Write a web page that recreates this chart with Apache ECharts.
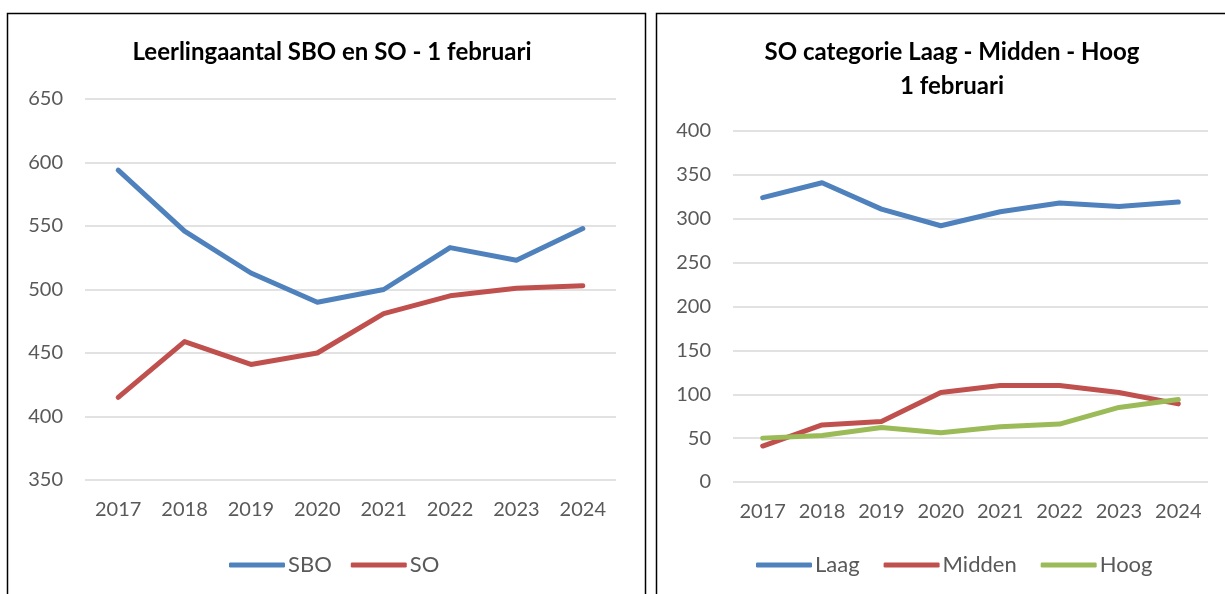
<!DOCTYPE html>
<html><head><meta charset="utf-8">
<script src="https://cdn.jsdelivr.net/npm/echarts@6/dist/echarts.min.js"></script>
<style>html,body{margin:0;padding:0;background:#fff}#c{width:1225px;height:594px}</style>
</head><body><div id="c"></div>
<script>
const years = ['2017','2018','2019','2020','2021','2022','2023','2024'];
const sbo = [594, 546, 513, 490, 500, 533, 523, 548];
const so = [415, 459, 441, 450, 481, 495, 501, 503];
const laag = [324, 341, 311, 292, 308, 318, 314, 319];
const midden = [41, 65, 69, 102, 110, 110, 102, 89];
const hoog = [50, 53, 62, 56, 63, 66, 85, 94];
const leftTicks = {min: 350, max: 650, interval: 50};
const rightTicks = {min: 0, max: 400, interval: 50};

const FONT = 'Lato';
const GRAY = '#595959';
const chart = echarts.init(document.getElementById('c'), null, {renderer: 'canvas'});
function xAxis(i) {
  return {type: 'category', gridIndex: i, data: years, boundaryGap: true,
    axisLine: {show: false}, axisTick: {show: false},
    axisLabel: {color: GRAY, fontSize: 20, fontFamily: FONT, margin: 20, interval: 0, hideOverlap: false}};
}
function yAxis(i, t) {
  return {type: 'value', gridIndex: i, min: t.min, max: t.max, interval: t.interval,
    axisLine: {show: false}, axisTick: {show: false},
    axisLabel: {color: GRAY, fontSize: 20, fontFamily: FONT, margin: 22},
    splitLine: {lineStyle: {color: '#D9D9D9', width: 1.5}}};
}
function line(name, data, color, i) {
  return {type: 'line', name, data, xAxisIndex: i, yAxisIndex: i, symbol: 'none',
    lineStyle: {color, width: 5, cap: 'round', join: 'round'}, itemStyle: {color}, animation: false};
}
const legendText = {color: GRAY, fontSize: 22, fontFamily: FONT, padding: [0, 0, 0, -2]};
chart.setOption({
  animation: false,
  title: [
    {text: 'Leerlingaantal SBO en SO - 1 februari', left: 327, textAlign: 'center', top: 30,
      textStyle: {fontFamily: FONT, fontWeight: 'bold', fontSize: 24, color: '#000', lineHeight: 34}},
    {text: 'SO categorie Laag - Midden - Hoog\n1 februari', left: 947, textAlign: 'center', top: 30,
      textStyle: {fontFamily: FONT, fontWeight: 'bold', fontSize: 24, color: '#000', lineHeight: 34}}
  ],
  grid: [
    {left: 85, right: 609, top: 99, bottom: 114},
    {left: 733, right: 17, top: 131, bottom: 112}
  ],
  legend: [
    {data: ['SBO', 'SO'], left: 224, top: 549, icon: 'roundRect', itemWidth: 56, itemHeight: 5, itemGap: 19,
      textStyle: legendText},
    {data: ['Laag', 'Midden', 'Hoog'], left: 751, top: 549, icon: 'roundRect', itemWidth: 56, itemHeight: 5, itemGap: 24,
      textStyle: legendText}
  ],
  xAxis: [xAxis(0), xAxis(1)],
  yAxis: [yAxis(0, leftTicks), yAxis(1, rightTicks)],
  series: [
    line('SBO', sbo, '#4F81BD', 0),
    line('SO', so, '#C0504D', 0),
    line('Laag', laag, '#4F81BD', 1),
    line('Midden', midden, '#C0504D', 1),
    line('Hoog', hoog, '#9BBB59', 1)
  ],
  graphic: [
    {type: 'rect', shape: {x: 7.5, y: 13.5, width: 638, height: 600}, style: {fill: 'none', stroke: '#000', lineWidth: 1.5}, silent: true},
    {type: 'rect', shape: {x: 656.5, y: 13.5, width: 600, height: 600}, style: {fill: 'none', stroke: '#000', lineWidth: 1.5}, silent: true}
  ]
});
</script></body></html>
